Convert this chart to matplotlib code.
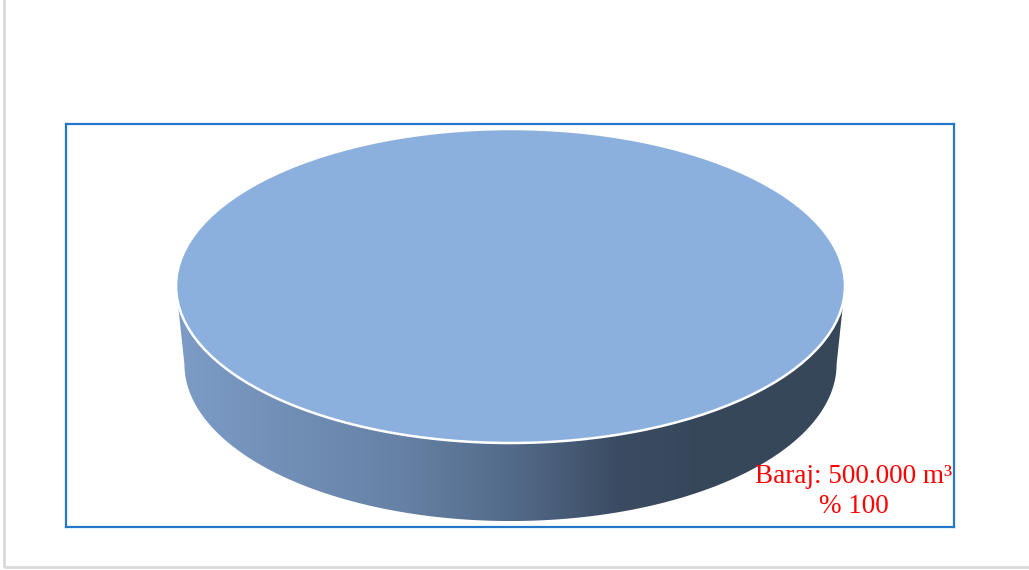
import numpy as np
import matplotlib
matplotlib.use("Agg")
import matplotlib.pyplot as plt
from matplotlib.colors import LinearSegmentedColormap
from matplotlib.patches import Polygon, Rectangle

# Veri: tek dilim (baraj hacmi)
categories = ["Baraj"]
volumes_m3 = [500000]
units = ["m³"]

top_color = "#8cb0de"
side_colors = ["#7c9cc6", "#6782a6", "#536b8a", "#3b4c62", "#37475a", "#37475a"]
side_stops = [0.0, 0.33, 0.50, 0.66, 0.80, 1.0]
depth = 0.497       # yan yuzey kalinligi (elips yari yuksekligi = 1)
bottom_rx = 0.975   # perspektif: alt elips biraz daha dar

fig = plt.figure(figsize=(10.29, 5.70), dpi=100)
fig.patch.set_facecolor("white")

# grafik alani cercevesi (acik gri)
fig.patches.append(Rectangle((4.0 / 1029, 3.5 / 570), 1.2, 1.2,
                             transform=fig.transFigure, fill=False,
                             edgecolor="#d9d9d9", linewidth=2.0))

ax = fig.add_axes([66 / 1029, 43 / 570, 888 / 1029, 403 / 570])

total = sum(volumes_m3)
shares = [v / total * 100 for v in volumes_m3]

# yan yuzey (gradyan)
t = np.linspace(np.pi, 2 * np.pi, 200)
arc = np.column_stack([bottom_rx * np.cos(t), -depth + np.sin(t)])
side_pts = np.vstack([[-1, 0], arc, [1, 0]])
side = Polygon(side_pts, closed=True, facecolor="none", edgecolor="none")
ax.add_patch(side)
cmap = LinearSegmentedColormap.from_list("side", list(zip(side_stops, side_colors)))
grad = np.linspace(0, 1, 512).reshape(1, -1)
img = ax.imshow(grad, cmap=cmap, extent=(-1, 1, -depth - 1.05, 0.05),
                aspect="auto", zorder=1, interpolation="bilinear")
img.set_clip_path(side)

# ust yuzey
wedges, _ = ax.pie(volumes_m3, radius=1, colors=[top_color], startangle=90,
                   wedgeprops=dict(edgecolor="white", linewidth=1.8))
for w in wedges:
    w.set_zorder(2)

ax.set_aspect("auto")
ax.set_xlim(-1.329, 1.326)
ax.set_ylim(-1.535, 1.032)
ax.set_xticks([])
ax.set_yticks([])
ax.set_frame_on(True)
for s in ax.spines.values():
    s.set_visible(True)
    s.set_edgecolor("#2477c9")
    s.set_linewidth(1.6)

for cat, vol, unit, pct in zip(categories, volumes_m3, units, shares):
    label = f"{cat}: {vol:,.0f} {unit}".replace(",", ".") + f"\n% {pct:.0f}"
    ax.text(1.027, -1.31, label, ha="center", va="center", color="#ff0000",
            fontsize=19.5, family="Liberation Serif", linespacing=1.28, zorder=5)

fig.savefig("out.png", dpi=100)
